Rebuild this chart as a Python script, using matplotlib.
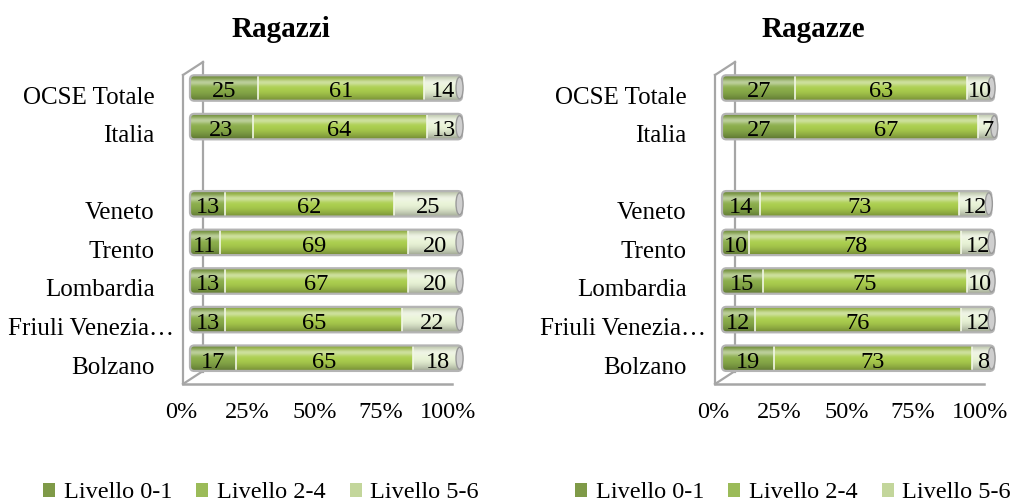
import matplotlib
matplotlib.use("Agg")
import matplotlib.pyplot as plt
import numpy as np
from matplotlib.patches import FancyBboxPatch, Ellipse, Rectangle
from matplotlib.lines import Line2D
from matplotlib.colors import to_rgb
from matplotlib.transforms import ScaledTranslation
from matplotlib.font_manager import FontProperties

# ---------------- data ----------------
categories = ["OCSE Totale", "Italia", "Veneto", "Trento", "Lombardia",
              "Friuli Venezia\u2026", "Bolzano"]
row_pos = [0, 1, 3, 4, 5, 6, 7]
series_names = ["Livello 0-1", "Livello 2-4", "Livello 5-6"]

boys_low = [25, 23, 13, 11, 13, 13, 17]
boys_mid = [61, 64, 62, 69, 67, 65, 65]
boys_high = [14, 13, 25, 20, 20, 22, 18]

girls_low = [27, 27, 14, 10, 15, 12, 19]
girls_mid = [63, 67, 73, 78, 75, 76, 73]
girls_high = [10, 7, 12, 12, 10, 12, 8]

xticks = [0, 25, 50, 75, 100]
xtick_labels = ["0%", "25%", "50%", "75%", "100%"]

colors = ["#7f9a48", "#9bbb59", "#c3d69b"]
bar_colors = ["#86a848", "#a6c84c", "#e2ecd0"]

FONT = "Liberation Serif"
plt.rcParams["font.family"] = [FONT, "DejaVu Serif"]

W, H = 1016, 504
fig = plt.figure(figsize=(W / 100, H / 100), dpi=100)


def add_axes_px(x0, x1, y0, y1):
    return fig.add_axes([x0 / W, 1 - y1 / H, (x1 - x0) / W, (y1 - y0) / H])


def fig_line(xs, ys, **kw):
    fig.add_artist(Line2D([x / W for x in xs], [1 - y / H for y in ys],
                          transform=fig.transFigure, **kw))


def gradient(base):
    r, g, b = to_rgb(base)
    t = np.linspace(0, 1, 64)
    shade = 0.80 + 0.28 * np.sin(np.pi * t) - 0.10 * t
    hl = 0.45 * np.exp(-((t - 0.28) / 0.13) ** 2)
    img = np.zeros((64, 1, 3))
    for i, c in enumerate((r, g, b)):
        v = c * shade
        v = v + (1 - v) * hl
        img[:, 0, i] = np.clip(v, 0, 1)
    return img


PX_PER_UNIT_X = 2.72
ROW_PX = 38.6
BAR_H = 0.66


def panel(dx, title, low, mid, high):
    bar_left = 190 + dx
    ax_x0, ax_x1 = 181 + dx, 475 + dx
    ax_y0, ax_y1 = 62, 392
    first_center = 88
    ax = add_axes_px(ax_x0, ax_x1, ax_y0, ax_y1)
    ax.set_xlim((ax_x0 - bar_left) / PX_PER_UNIT_X, (ax_x1 - bar_left) / PX_PER_UNIT_X)
    ax.set_ylim((ax_y1 - first_center) / ROW_PX, (ax_y0 - first_center) / ROW_PX)
    for s in ax.spines.values():
        s.set_visible(False)
    ax.set_xticks([])
    ax.set_yticks(row_pos)
    ax.set_yticklabels(categories, fontsize=18)
    ax.tick_params(axis="y", length=0, pad=19)
    off = ScaledTranslation(0, -0.07, fig.dpi_scale_trans)
    for lbl in ax.get_yticklabels():
        if lbl.get_text().endswith("\u2026"):
            lbl.set_transform(lbl.get_transform() + off +
                              ScaledTranslation(0.19, 0, fig.dpi_scale_trans))
        else:
            lbl.set_transform(lbl.get_transform() + off)
    ax.patch.set_alpha(0)

    # 3D box walls
    gc = "#a6a6a6"
    fig_line([203 + dx, 203 + dx], [62, 372], color=gc, lw=1.6, zorder=0)
    fig_line([183 + dx, 183 + dx], [75, 384], color=gc, lw=1.6, zorder=0)
    fig_line([183 + dx, 203 + dx], [75, 62], color=gc, lw=1.6, zorder=0)
    fig_line([183 + dx, 203 + dx], [384, 371], color=gc, lw=1.6, zorder=0)
    fig_line([183 + dx, 452 + dx], [384, 384], color=gc, lw=1.8, zorder=0)

    mut = (4 / ROW_PX) / (4 / PX_PER_UNIT_X)
    for i, y in enumerate(row_pos):
        vals = [low[i], mid[i], high[i]]
        total = sum(vals)
        outline = FancyBboxPatch((0, y - BAR_H / 2), total, BAR_H,
                                 boxstyle="round,pad=0,rounding_size=1.6",
                                 mutation_aspect=mut, facecolor="none",
                                 edgecolor="#b4b4b4", lw=1.6, zorder=5)
        clipbox = FancyBboxPatch((0, y - BAR_H / 2), total, BAR_H,
                                 boxstyle="round,pad=0,rounding_size=1.6",
                                 mutation_aspect=mut, facecolor="none",
                                 edgecolor="none", transform=ax.transData)
        ax.add_patch(clipbox)
        left = 0
        for k, v in enumerate(vals):
            im = ax.imshow(gradient(bar_colors[k]), aspect="auto",
                           extent=(left, left + v, y + BAR_H / 2, y - BAR_H / 2),
                           interpolation="bilinear", zorder=3)
            im.set_clip_path(clipbox)
            if k > 0:
                ax.plot([left, left], [y - BAR_H / 2 + 0.04, y + BAR_H / 2 - 0.04],
                        color="#f2f7e6", lw=1.2, zorder=4)
            ax.text(left + v / 2, y + 0.1, f"{v}", ha="center", va="center",
                    fontsize=17.5, color="black", zorder=7)
            left += v
        ax.add_patch(outline)
        cap = Ellipse((total - 0.9, y), 2.6, BAR_H * 0.86, facecolor="#cfcfcf",
                      edgecolor="#9a9a9a", lw=1.0, zorder=6)
        ax.add_patch(cap)

    # tick labels (front plane)
    tax = add_axes_px(181 + dx, 448 + dx, 401, 402)
    tax.set_xlim(0, 100)
    tax.set_xticks(xticks)
    tax.set_xticklabels(xtick_labels, fontsize=17.5)
    tax.tick_params(axis="x", length=0, pad=0)
    tax.set_yticks([])
    for s in tax.spines.values():
        s.set_visible(False)
    tax.patch.set_alpha(0)

    fig.text((281 + dx) / W, 1 - 37 / H, title, ha="center", va="baseline",
             fontsize=21, fontweight="bold")

    handles = [Rectangle((0, 0), 1, 1, facecolor=c, edgecolor="none") for c in colors]
    fig.legend(handles, series_names, loc="center",
               bbox_to_anchor=((261 + dx) / W, 1 - 493 / H), ncol=3,
               frameon=False, prop=FontProperties(family=[FONT], size=17.5),
               handlelength=0.5, handleheight=0.5,
               handletextpad=0.35, columnspacing=1.0, borderpad=0.1)


panel(0, "Ragazzi", boys_low, boys_mid, boys_high)
panel(532, "Ragazze", girls_low, girls_mid, girls_high)

fig.savefig("out.png", dpi=100)
